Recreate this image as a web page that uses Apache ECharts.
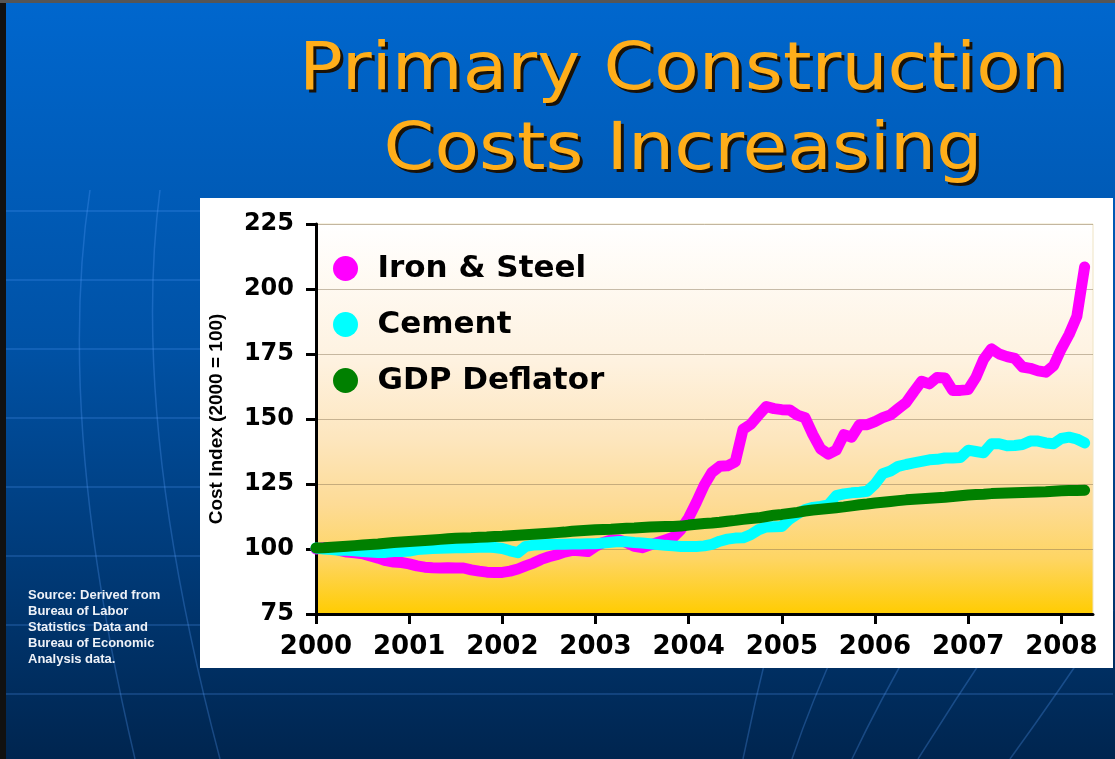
<!DOCTYPE html>
<html>
<head>
<meta charset="utf-8">
<title>Primary Construction Costs Increasing</title>
<script src="https://cdn.jsdelivr.net/npm/echarts@6/dist/echarts.min.js"></script>
<style>
  html, body { margin: 0; padding: 0; background: #003060; }
  #chart { width: 1115px; height: 759px; }
</style>
</head>
<body>
<div id="chart"></div>
<script>
// monthly index values, Jan 2000 .. Apr 2008 (2000 = 100)
const startYear = 2000;
const yearTicks = [2000, 2001, 2002, 2003, 2004, 2005, 2006, 2007, 2008];
const seriesNames = ["Iron & Steel", "Cement", "GDP Deflator"];
const seriesColors = ["#FF00FF", "#00FFFF", "#008000"];

const ironSteel = [
  100, 100.5, 100.3, 99.5, 98.8, 98.5, 98.2, 97.3, 96.5, 95.5, 95, 94.8,
  94.3, 93.5, 93, 92.8, 92.7, 92.8, 92.7, 92.7, 92, 91.5, 91.1, 91,
  91, 91.5, 92.3, 93.5, 94.6, 96, 97, 97.8, 98.8, 99.5, 99.3, 99,
  101, 102.5, 103.5, 103.5, 102.5, 101, 100.5, 101.5, 102.5, 103.5, 104.5, 107.5,
  112, 118, 124.5, 129.5, 131.8, 132, 133.5, 146, 148, 151.5, 154.8, 154,
  153.6, 153.5, 151.5, 150.5, 144, 138.5, 136.5, 138, 144, 143, 147.8, 147.8,
  149, 150.5, 151.6, 154, 156.3, 160.5, 164.5, 163.5, 166, 165.8, 161, 161,
  161.3, 166, 173, 177, 175, 174, 173.3, 170, 169.5, 168.5, 168, 170.5,
  177, 182.5, 189.5, 208.5
];

const cement = [
  100.4, 100, 99.8, 99.5, 99.5, 99.3, 99, 98.8, 98.7, 98.7, 99, 99,
  99.2, 99.8, 100, 100.2, 100.3, 100.4, 100.5, 100.5, 100.6, 100.7, 100.8, 100.6,
  100.2, 99.3, 98.6, 101, 101.5, 101.6, 101.7, 101.8, 101.8, 101.9, 101.9, 102,
  102, 102.3, 102.6, 102.9, 102.8, 102.5, 102.3, 102, 101.7, 101.4, 101.2, 101,
  101, 101, 101.2, 101.8, 103, 103.8, 104.2, 104.3, 105.5, 107.4, 108.5, 108.6,
  108.7, 111.5, 113.5, 115.2, 116, 116.4, 117, 120.5, 121.2, 121.6, 121.8, 122.2,
  125, 129, 130, 131.8, 132.5, 133.1, 133.7, 134.3, 134.5, 135, 135, 135.2,
  138, 137.5, 137, 140.5, 140.5, 139.7, 139.8, 140.2, 141.5, 141.5, 140.8, 140.5,
  142.5, 143, 142.3, 140.8
];

const gdpDeflator = [
  100.4, 100.5, 100.7, 100.9, 101.1, 101.3, 101.5, 101.7, 101.9, 102.2, 102.5, 102.7,
  102.9, 103.1, 103.3, 103.5, 103.7, 103.9, 104.1, 104.2, 104.3, 104.5, 104.6, 104.8,
  104.9, 105.1, 105.3, 105.5, 105.7, 105.9, 106.1, 106.3, 106.5, 106.8, 107, 107.2,
  107.4, 107.5, 107.6, 107.8, 108, 108.1, 108.3, 108.5, 108.6, 108.7, 108.7, 108.8,
  109.2, 109.5, 109.8, 110, 110.3, 110.7, 111, 111.4, 111.7, 112, 112.5, 113,
  113.3, 113.7, 114.1, 114.6, 115, 115.3, 115.6, 115.9, 116.2, 116.6, 117, 117.3,
  117.7, 118, 118.3, 118.6, 118.9, 119.1, 119.3, 119.5, 119.7, 119.9, 120.2, 120.5,
  120.8, 121, 121.1, 121.3, 121.4, 121.5, 121.6, 121.7, 121.8, 121.9, 122, 122.2,
  122.4, 122.5, 122.5, 122.6
];

const titleLines = ["Primary Construction", "Costs Increasing"];
const sourceNote = "Source: Derived from\nBureau of Labor\nStatistics  Data and\nBureau of Economic\nAnalysis data.";

function toPoints(values) {
  return values.map((v, i) => [startYear + i / 12, v]);
}

// faint globe lines on the slide background
const decoLine = { stroke: "rgba(90,160,255,0.28)", lineWidth: 1.5, fill: null };
const decor = [];
for (let k = 0; k < 8; k++) {
  decor.push({ type: "line", z: -100, silent: true,
    shape: { x1: 6, y1: 211 + 69 * k, x2: 1113, y2: 211 + 69 * k }, style: decoLine });
}
[
  [90, 190, 55, 420, 135, 759],
  [160, 190, 130, 420, 220, 759],
  [770, 640, 755, 700, 743, 759],
  [840, 640, 812, 700, 792, 759],
  [915, 640, 880, 700, 852, 759],
  [995, 640, 955, 700, 918, 759],
  [1113, 610, 1060, 690, 1010, 759]
].forEach(c => {
  decor.push({ type: "bezierCurve", z: -100, silent: true,
    shape: { x1: c[0], y1: c[1], cpx1: c[2], cpy1: c[3], x2: c[4], y2: c[5] }, style: decoLine });
});

// title: black copy offset behind the orange text as a drop shadow
const titleFont = "65px 'DejaVu Sans'";
const titleText = [];
titleLines.forEach((line, i) => {
  const y = 72 + i * 80;
  titleText.push({ type: "text", x: 686, y: y + 3, scaleX: 1.12,
    style: { text: line, fill: "#1a1208", align: "center", verticalAlign: "middle", font: titleFont } });
  titleText.push({ type: "text", x: 683, y: y, scaleX: 1.12,
    style: { text: line, fill: "#FFAE1A", align: "center", verticalAlign: "middle", font: titleFont } });
});

const chart = echarts.init(document.getElementById("chart"));

const option = {
  animation: false,
  backgroundColor: new echarts.graphic.LinearGradient(0, 0, 0, 1, [
    { offset: 0, color: "#0067CE" },
    { offset: 0.45, color: "#0052A6" },
    { offset: 1, color: "#00254F" }
  ]),
  graphic: [
    ...decor,
    // slide edges
    { type: "rect", z: -90, shape: { x: 0, y: 0, width: 6, height: 759 }, style: { fill: "#111" } },
    { type: "rect", z: -90, shape: { x: 0, y: 0, width: 1115, height: 3 }, style: { fill: "#555" } },
    // white chart panel
    { type: "rect", z: -50, shape: { x: 200, y: 198, width: 913, height: 470 }, style: { fill: "#FFFFFF" } },
    ...titleText,
    {
      type: "text", x: 28, y: 587,
      style: {
        text: sourceNote, fill: "#EEF2F8", lineHeight: 16,
        font: "bold 13px 'Liberation Sans'"
      }
    }
  ],
  grid: {
    left: 316,
    right: 22,
    top: 224,
    bottom: 145,
    show: true,
    borderColor: "#EFE4C4",
    borderWidth: 1,
    backgroundColor: new echarts.graphic.LinearGradient(0, 0, 0, 1, [
      { offset: 0, color: "#FFFFFF" },
      { offset: 0.35, color: "#FEF2E0" },
      { offset: 0.55, color: "#FDE6BE" },
      { offset: 0.72, color: "#FDDB95" },
      { offset: 0.86, color: "#FED562" },
      { offset: 1, color: "#FFCC00" }
    ])
  },
  legend: {
    orient: "vertical",
    left: 328,
    top: 248,
    itemWidth: 30,
    itemHeight: 25,
    itemGap: 25,
    icon: "path://M0,50 A50,50 0 1,1 100,50 A50,50 0 1,1 0,50 Z",
    selectedMode: false,
    data: seriesNames,
    textStyle: {
      fontFamily: "DejaVu Sans",
      fontWeight: "bold",
      fontSize: 31,
      lineHeight: 25,
      color: "#000",
      padding: [0, 0, 0, 12]
    }
  },
  xAxis: {
    type: "value",
    min: 2000,
    max: 2008.34,
    interval: 1,
    splitLine: { show: false },
    axisLine: { onZero: false, lineStyle: { color: "#000", width: 3 } },
    axisTick: { length: 10, lineStyle: { color: "#000", width: 3 }, customValues: yearTicks },
    axisLabel: {
      customValues: yearTicks,
      formatter: v => String(v),
      margin: 20,
      color: "#000",
      fontFamily: "DejaVu Sans",
      fontWeight: "bold",
      fontSize: 26
    }
  },
  yAxis: {
    type: "value",
    min: 75,
    max: 225,
    interval: 25,
    name: "Cost Index (2000 = 100)",
    nameLocation: "middle",
    nameRotate: 90,
    nameGap: 90,
    nameTextStyle: {
      color: "#000",
      fontFamily: "Liberation Sans",
      fontWeight: "bold",
      fontSize: 19
    },
    axisLine: { show: true, lineStyle: { color: "#000", width: 3 } },
    axisTick: { show: true, length: 10, lineStyle: { color: "#000", width: 3 } },
    splitLine: { lineStyle: { color: "rgba(130,110,80,0.45)", width: 1 } },
    axisLabel: {
      margin: 22,
      color: "#000",
      fontFamily: "DejaVu Sans",
      fontWeight: "bold",
      fontSize: 24
    }
  },
  series: [ironSteel, cement, gdpDeflator].map((values, i) => ({
    name: seriesNames[i],
    type: "line",
    data: toPoints(values),
    showSymbol: false,
    color: seriesColors[i],
    lineStyle: { width: 11, color: seriesColors[i], cap: "round", join: "round" }
  }))
};

chart.setOption(option);
</script>
</body>
</html>
